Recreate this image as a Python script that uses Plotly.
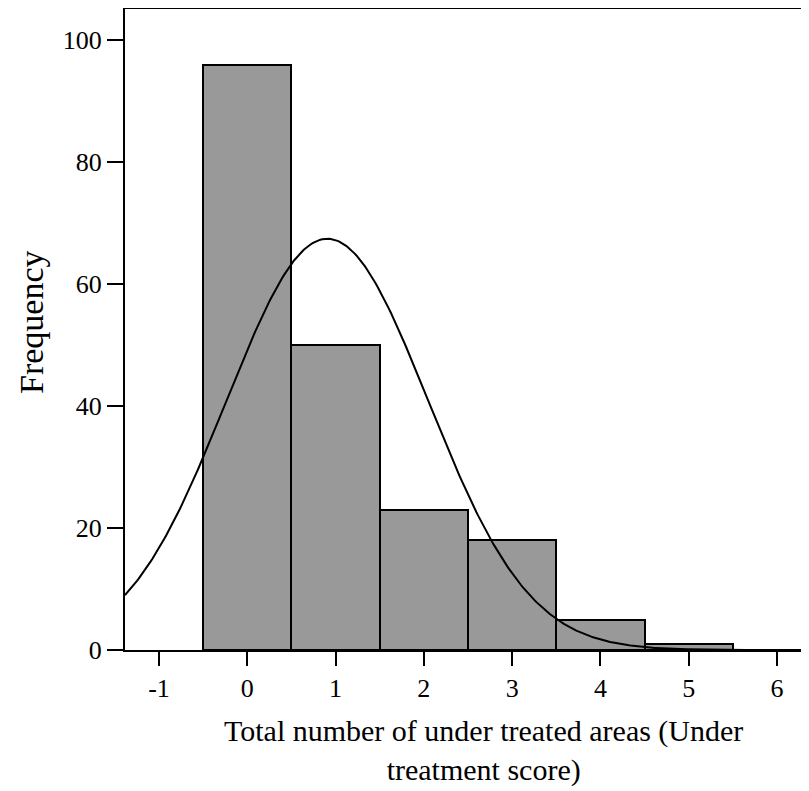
import numpy as np
import plotly.graph_objects as go

# Data
bin_centers = [0, 1, 2, 3, 4, 5]
frequencies = [96, 50, 23, 18, 5, 1]
x_tick_vals = [-1, 0, 1, 2, 3, 4, 5, 6]
y_tick_vals = [0, 20, 40, 60, 80, 100]
x_title_lines = ["Total number of under treated areas (Under", "treatment score)"]
y_title = "Frequency"

# Normal curve parameters (fitted to the histogram data)
n_total = sum(frequencies)
mean_val = sum(c * f for c, f in zip(bin_centers, frequencies)) / n_total
sd_val = np.sqrt((sum(c * c * f for c, f in zip(bin_centers, frequencies)) - n_total * mean_val ** 2) / (n_total - 1))

x_range = [-1.385, 6.362]
y_range = [0, 105.1]

xs = np.linspace(x_range[0], x_range[1], 400)
ys = n_total * 1.0 / (sd_val * np.sqrt(2 * np.pi)) * np.exp(-0.5 * ((xs - mean_val) / sd_val) ** 2)

FONT = "Liberation Serif"

# page offset (browser body margin)
OFF = 8
W, H = 809 - OFF, 791 - OFF
ML, MT, MR = 125 - OFF, 9 - OFF, 0
PLOT_H = 641
MB = H - MT - PLOT_H
PLOT_W = W - ML - MR


def px_to_paper(px, py):
    return (px - OFF - ML) / PLOT_W, (MT + PLOT_H - (py - OFF)) / PLOT_H


fig = go.Figure()
fig.add_trace(go.Bar(
    x=bin_centers, y=frequencies, width=1,
    marker=dict(color="#999999", line=dict(color="black", width=2)),
    showlegend=False,
))
fig.add_trace(go.Scatter(
    x=xs, y=ys, mode="lines",
    line=dict(color="black", width=2),
    showlegend=False,
))

tx, ty = px_to_paper(483, 750)
fx, fy = px_to_paper(31, 322)

fig.update_layout(
    width=W, height=H,
    margin=dict(l=ML, r=MR, t=MT, b=MB),
    paper_bgcolor="white", plot_bgcolor="white",
    font=dict(family=FONT, color="black"),
    bargap=0,
    xaxis=dict(
        range=x_range, tickvals=x_tick_vals, ticktext=[str(v) for v in x_tick_vals],
        showgrid=False, zeroline=False, showline=True, linecolor="black", linewidth=2,
        mirror=True, ticks="outside", ticklen=14, tickwidth=2, tickcolor="black",
        tickfont=dict(family=FONT, size=26, color="black"),
        automargin=False,
    ),
    yaxis=dict(
        range=y_range, tickvals=y_tick_vals,
        showgrid=False, zeroline=False, showline=True, linecolor="black", linewidth=2,
        ticks="outside", ticklen=16, tickwidth=2, tickcolor="black",
        tickfont=dict(family=FONT, size=26, color="black"),
        automargin=False,
    ),
    annotations=[
        dict(text="<br>".join(x_title_lines),
             x=tx, y=ty, xref="paper", yref="paper", xanchor="center", yanchor="middle",
             showarrow=False, font=dict(family=FONT, size=30, color="black")),
        dict(text=y_title, textangle=-90, x=fx, y=fy, xref="paper", yref="paper",
             xanchor="center", yanchor="middle", showarrow=False,
             font=dict(family=FONT, size=34, color="black")),
    ],
)

fig.write_html("out.html")
